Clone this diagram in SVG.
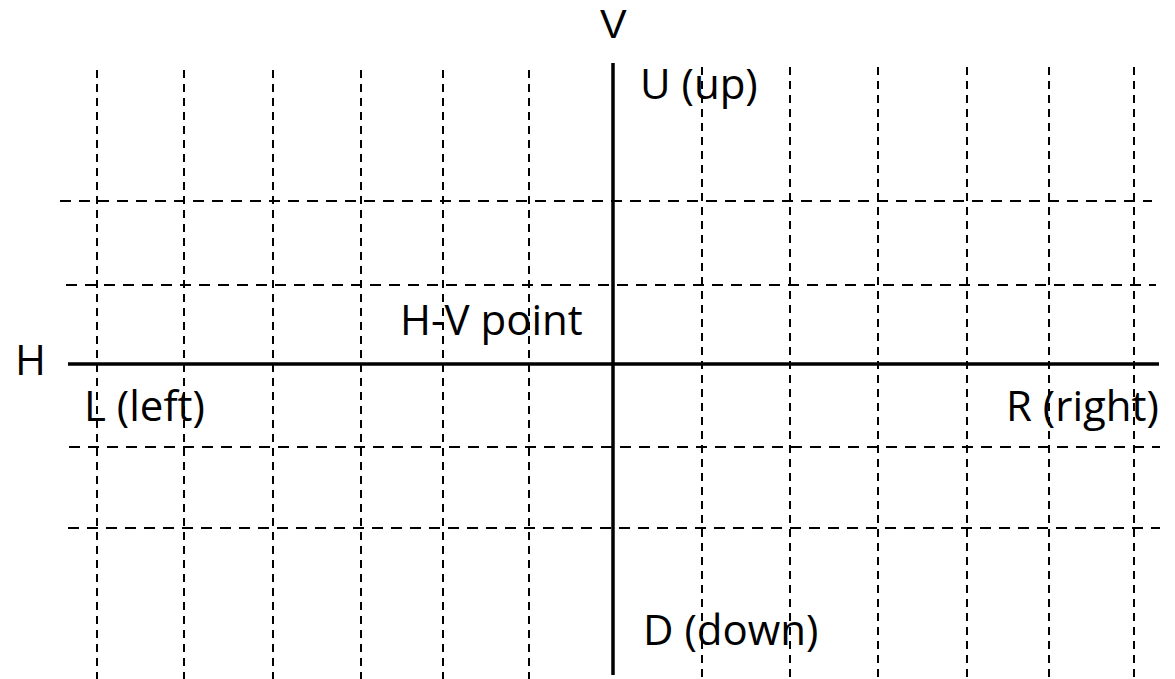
<svg xmlns="http://www.w3.org/2000/svg" width="1175" height="679" viewBox="0 0 1175 679">
<style>
.bg{fill:#fff}
.vd{stroke:#000;stroke-width:2;stroke-dasharray:8 6;fill:none}
.hd{stroke:#000;stroke-width:2.2;stroke-dasharray:11 8;fill:none}
.ax{stroke:#000;stroke-width:3.5;fill:none}
text{font-family:"Open Sans","Liberation Sans",sans-serif;font-size:42px;fill:#000}
</style>
<rect class="bg" x="0" y="0" width="1175" height="679"/>
<g id="grid">
<line class="vd" x1="97" y1="70" x2="97" y2="679"/>
<line class="vd" x1="184" y1="70" x2="184" y2="679"/>
<line class="vd" x1="273" y1="70" x2="273" y2="679"/>
<line class="vd" x1="361" y1="70" x2="361" y2="679"/>
<line class="vd" x1="443" y1="70" x2="443" y2="679"/>
<line class="vd" x1="529" y1="70" x2="529" y2="679"/>
<line class="vd" x1="702" y1="67" x2="702" y2="679"/>
<line class="vd" x1="790" y1="67" x2="790" y2="679"/>
<line class="vd" x1="878" y1="67" x2="878" y2="679"/>
<line class="vd" x1="967" y1="67" x2="967" y2="679"/>
<line class="vd" x1="1049" y1="67" x2="1049" y2="679"/>
<line class="vd" x1="1134" y1="67" x2="1134" y2="679"/>
<line class="hd" x1="60" y1="201" x2="1152" y2="201"/>
<line class="hd" x1="66" y1="285" x2="1156" y2="285"/>
<line class="hd" x1="69" y1="447" x2="1160" y2="447"/>
<line class="hd" x1="68" y1="528" x2="1160" y2="528"/>
</g>
<g id="axes">
<line class="ax" x1="68" y1="364" x2="1159" y2="364"/>
<line class="ax" x1="613" y1="63" x2="613" y2="675"/>
</g>
<g id="labels">
<text id="label-V" x="600" y="38" style="font-family:'Liberation Sans',sans-serif;font-size:40px">V</text>
<text id="label-U" x="640" y="99">U (up)</text>
<text id="label-HV" x="400" y="335">H-V point</text>
<text id="label-H" x="15" y="375">H</text>
<text id="label-L" x="84" y="421">L (left)</text>
<text id="label-R" x="1006" y="421">R (right)</text>
<text id="label-D" x="643" y="645">D (down)</text>
</g>
</svg>
